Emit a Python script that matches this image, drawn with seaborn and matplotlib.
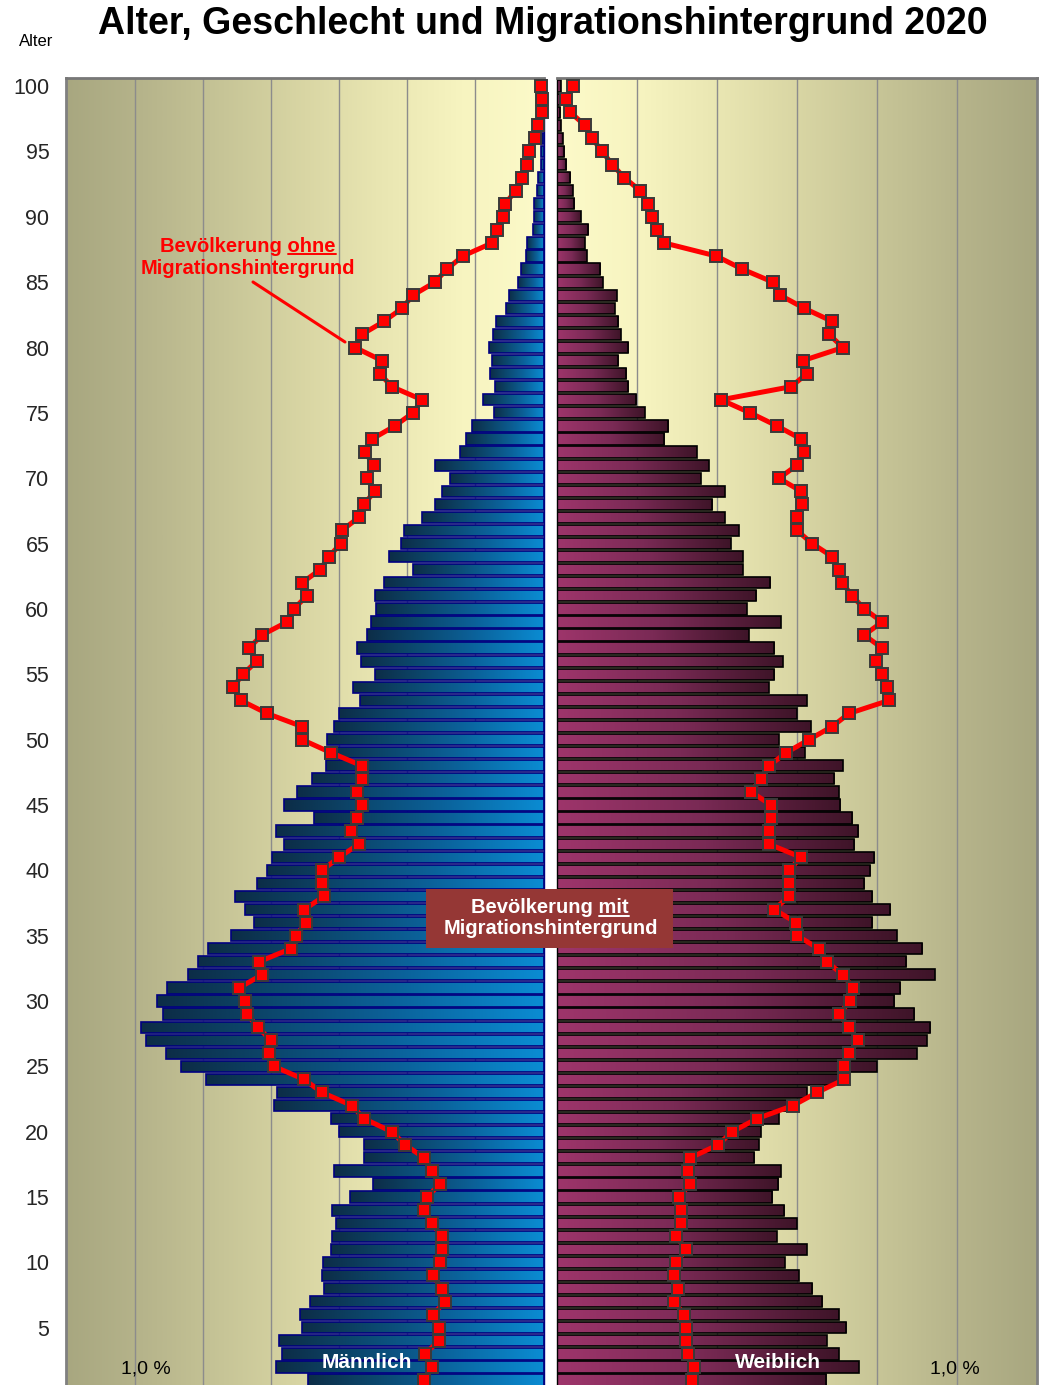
import numpy as np
import pandas as pd
import matplotlib
matplotlib.use("Agg")
import matplotlib.pyplot as plt
import seaborn as sns
from matplotlib.colors import LinearSegmentedColormap
from matplotlib.lines import Line2D
from matplotlib.patches import Rectangle

# ---------------- data (ages 1 .. 100) ----------------
ages = list(range(1, 101))

# population WITH migration background (bars), left panel units
male_mit = [0.693, 0.787, 0.769, 0.778, 0.710, 0.716, 0.687, 0.646, 0.652, 0.649,
            0.625, 0.622, 0.610, 0.622, 0.569, 0.502, 0.616, 0.528, 0.528, 0.601,
            0.625, 0.793, 0.784, 0.993, 1.066, 1.110, 1.169, 1.184, 1.119, 1.137,
            1.107, 1.046, 1.016, 0.987, 0.920, 0.852, 0.878, 0.908, 0.843, 0.813,
            0.799, 0.763, 0.787, 0.675, 0.763, 0.725, 0.681, 0.640, 0.643, 0.637,
            0.616, 0.601, 0.540, 0.560, 0.496, 0.537, 0.549, 0.519, 0.507, 0.493,
            0.496, 0.469, 0.384, 0.454, 0.419, 0.410, 0.357, 0.319, 0.299, 0.275,
            0.319, 0.246, 0.228, 0.210, 0.146, 0.178, 0.143, 0.157, 0.151, 0.160,
            0.149, 0.140, 0.110, 0.101, 0.075, 0.066, 0.051, 0.048, 0.031, 0.028,
            0.028, 0.019, 0.016, 0.007, 0.007, 0.004, 0.003, 0.000, 0.000, 0.000]

female_mit = [0.673, 0.755, 0.705, 0.675, 0.723, 0.705, 0.663, 0.638, 0.605, 0.570,
              0.625, 0.550, 0.600, 0.568, 0.538, 0.553, 0.560, 0.493, 0.505, 0.510,
              0.555, 0.583, 0.625, 0.718, 0.800, 0.900, 0.925, 0.933, 0.893, 0.843,
              0.858, 0.945, 0.873, 0.913, 0.850, 0.788, 0.833, 0.788, 0.768, 0.783,
              0.793, 0.743, 0.753, 0.738, 0.708, 0.705, 0.693, 0.715, 0.620, 0.555,
              0.635, 0.600, 0.625, 0.530, 0.543, 0.565, 0.543, 0.480, 0.560, 0.475,
              0.498, 0.533, 0.465, 0.465, 0.435, 0.455, 0.420, 0.388, 0.420, 0.360,
              0.380, 0.350, 0.268, 0.278, 0.220, 0.198, 0.178, 0.173, 0.153, 0.178,
              0.160, 0.153, 0.145, 0.150, 0.115, 0.108, 0.075, 0.070, 0.078, 0.060,
              0.043, 0.040, 0.033, 0.023, 0.018, 0.015, 0.010, 0.008, 0.008, 0.010]

# population WITHOUT migration background (red lines)
male_ohne = [0.351, 0.328, 0.349, 0.307, 0.307, 0.325, 0.290, 0.299, 0.325, 0.304,
             0.299, 0.299, 0.328, 0.351, 0.343, 0.304, 0.328, 0.351, 0.407, 0.446,
             0.528, 0.563, 0.651, 0.704, 0.793, 0.808, 0.802, 0.840, 0.872, 0.878,
             0.896, 0.828, 0.837, 0.743, 0.728, 0.699, 0.704, 0.646, 0.651, 0.651,
             0.601, 0.543, 0.566, 0.549, 0.534, 0.549, 0.534, 0.534, 0.625, 0.710,
             0.710, 0.813, 0.890, 0.913, 0.884, 0.843, 0.866, 0.828, 0.754, 0.734,
             0.696, 0.710, 0.657, 0.631, 0.596, 0.593, 0.543, 0.528, 0.496, 0.519,
             0.499, 0.525, 0.504, 0.437, 0.384, 0.357, 0.446, 0.481, 0.475, 0.554,
             0.534, 0.469, 0.416, 0.384, 0.319, 0.284, 0.237, 0.151, 0.137, 0.119,
             0.113, 0.081, 0.063, 0.049, 0.043, 0.025, 0.016, 0.004, 0.004, 0.007]

female_ohne = [0.338, 0.343, 0.328, 0.323, 0.323, 0.318, 0.293, 0.303, 0.293, 0.298,
               0.323, 0.298, 0.310, 0.310, 0.305, 0.333, 0.328, 0.333, 0.403, 0.438,
               0.500, 0.590, 0.650, 0.718, 0.718, 0.730, 0.753, 0.730, 0.705, 0.733,
               0.740, 0.715, 0.675, 0.655, 0.600, 0.598, 0.543, 0.580, 0.580, 0.580,
               0.610, 0.530, 0.530, 0.535, 0.535, 0.485, 0.510, 0.530, 0.573, 0.630,
               0.688, 0.730, 0.830, 0.825, 0.813, 0.798, 0.813, 0.768, 0.813, 0.768,
               0.738, 0.713, 0.705, 0.688, 0.638, 0.600, 0.600, 0.613, 0.610, 0.555,
               0.600, 0.618, 0.610, 0.550, 0.483, 0.410, 0.585, 0.625, 0.615, 0.715,
               0.680, 0.688, 0.618, 0.558, 0.540, 0.463, 0.398, 0.268, 0.250, 0.238,
               0.228, 0.208, 0.168, 0.138, 0.113, 0.088, 0.070, 0.033, 0.023, 0.040]

age_ticks = list(range(5, 101, 5))
left_grid = [0.2, 0.4, 0.6, 0.8, 1.0, 1.2]
right_grid = [0.2, 0.4, 0.6, 0.8, 1.0]

title = "Alter, Geschlecht und Migrationshintergrund 2020"

# ---------------- style ----------------
sns.set_theme(style="white")
plt.rcParams['font.family'] = ['Liberation Sans', 'DejaVu Sans']

W, H = 1040, 1385
fig = plt.figure(figsize=(W / 100, H / 100), dpi=100)
fig.patch.set_facecolor('white')


def fx(px):
    return px / W


def fy(py):
    return 1 - py / H


TOP = 78
axL = fig.add_axes([fx(66), 0, fx(543.5) - fx(66), 1 - TOP / H])
axR = fig.add_axes([fx(557), 0, fx(1037) - fx(557), 1 - TOP / H])

df = pd.DataFrame({'age': ages, 'male_mit': male_mit, 'female_mit': female_mit,
                   'male_ohne': male_ohne, 'female_ohne': female_ohne})

YLIM = (0.62, 100.62)
LXMAX, RXMAX = 1.404, 1.2

bg_cmap = LinearSegmentedColormap.from_list(
    'bg', [(0, '#FCFAC9'), (0.17, '#F7F4C0'), (0.35, '#E8E5B1'), (0.5, '#D9D6A4'),
           (0.67, '#C7C597'), (0.84, '#B6B48B'), (1, '#A8A780')])
male_cmap = LinearSegmentedColormap.from_list(
    'm', [(0, '#0A8CD3'), (0.4, '#0B6199'), (0.75, '#0C4468'), (1, '#0C2D47')])
female_cmap = LinearSegmentedColormap.from_list(
    'f', [(0, '#9E356B'), (0.5, '#7A2A55'), (1, '#3E1428')])

for ax, xmax in ((axL, LXMAX), (axR, RXMAX)):
    g = np.linspace(0, 1, 512).reshape(1, -1)
    ax.imshow(g, cmap=bg_cmap, extent=(0, xmax, YLIM[0], YLIM[1]), aspect='auto',
              origin='lower', zorder=-10, interpolation='bilinear')

sns.barplot(data=df, x='male_mit', y='age', orient='h', native_scale=True, ax=axL,
            color='#0A6DA5', edgecolor='#000080', linewidth=1.2, width=0.86, errorbar=None)
sns.barplot(data=df, x='female_mit', y='age', orient='h', native_scale=True, ax=axR,
            color='#7A2A55', edgecolor='black', linewidth=1.2, width=0.86, errorbar=None)


def grad_fill(ax, cmap):
    g = np.linspace(0, 1, 256).reshape(1, -1)
    for p in list(ax.patches):
        w = p.get_width()
        if w <= 0:
            continue
        x0, y0, h = p.get_x(), p.get_y(), p.get_height()
        im = ax.imshow(g, cmap=cmap, extent=(x0, x0 + w, y0, y0 + h), aspect='auto',
                       origin='lower', interpolation='bilinear', zorder=1.5)
        im.set_clip_path(p)
        p.set_facecolor('none')
        p.set_zorder(2)


grad_fill(axL, male_cmap)
grad_fill(axR, female_cmap)

line_kw = dict(orient='y', color='#FF0000', linewidth=3.6, marker='s', markersize=8.2,
               markerfacecolor='#FF0000', markeredgecolor='#3A3A3A', markeredgewidth=1.4,
               errorbar=None, clip_on=False, zorder=5)
sns.lineplot(data=df, x='male_ohne', y='age', ax=axL, **line_kw)
sns.lineplot(data=df, x='female_ohne', y='age', ax=axR, **line_kw)

axL.set_xlim(LXMAX, 0)
axR.set_xlim(0, RXMAX)
for ax, grid in ((axL, left_grid), (axR, right_grid)):
    ax.set_ylim(*YLIM)
    ax.set_xticks(grid)
    ax.grid(axis='x', color='#8C8C8C', linewidth=1.0)
    ax.grid(axis='y', visible=False)
    ax.set_axisbelow(True)
    ax.set_xlabel('')
    ax.set_ylabel('')
    ax.tick_params(length=0, labelbottom=False)
    ax.set_yticks(age_ticks)
    ax.spines['bottom'].set_visible(False)
    ax.spines['top'].set_color('#777777')
    ax.spines['top'].set_linewidth(2.0)

axL.set_yticklabels([str(a) for a in age_ticks], fontsize=15.5)
axL.tick_params(axis='y', pad=12)
axR.tick_params(axis='y', labelleft=False)
axL.spines['left'].set_color('#808080')
axL.spines['left'].set_linewidth(2.0)
axL.spines['right'].set_color('#000080')
axL.spines['right'].set_linewidth(1.0)
axR.spines['right'].set_color('#808080')
axR.spines['right'].set_linewidth(2.0)
axR.spines['left'].set_color('black')
axR.spines['left'].set_linewidth(1.0)

# ---------------- texts ----------------
fig.text(fx(543), fy(24), title, ha='center', va='center', fontsize=27,
         fontweight='bold', color='black')
fig.text(fx(36), fy(41), 'Alter', ha='center', va='center', fontsize=12, color='black')

red_kw = dict(ha='center', va='baseline', fontsize=14.5, fontweight='bold', color='#FF0000')
t_ohne = fig.text(fx(248), fy(251.5), 'Bevölkerung ohne', **red_kw)
fig.text(fx(248), fy(273.5), 'Migrationshintergrund', **red_kw)
fig.add_artist(Line2D([fx(253), fx(345)], [fy(282), fy(342)], color='#FF0000',
                      linewidth=2.2, transform=fig.transFigure))

fig.add_artist(Rectangle((fx(426), fy(948)), fx(673) - fx(426), fy(889) - fy(948),
                         transform=fig.transFigure, facecolor='#953735',
                         edgecolor='none', zorder=3))
wh_kw = dict(ha='center', va='baseline', fontsize=14.5, fontweight='bold',
             color='white', zorder=4)
t_mit = fig.text(fx(550), fy(913), 'Bevölkerung mit', **wh_kw)
fig.text(fx(550.5), fy(934), 'Migrationshintergrund', **wh_kw)

fig.text(fx(367), fy(1362), 'Männlich', ha='center', va='center', fontsize=15,
         fontweight='bold', color='white', zorder=4)
fig.text(fx(778), fy(1362), 'Weiblich', ha='center', va='center', fontsize=15,
         fontweight='bold', color='white', zorder=4)
fig.text(fx(146), fy(1369), '1,0 %', ha='center', va='center', fontsize=14, color='black')
fig.text(fx(955), fy(1369), '1,0 %', ha='center', va='center', fontsize=14, color='black')

# underline single words
fig.canvas.draw()
rend = fig.canvas.get_renderer()


def underline(tobj, word, color):
    bb = tobj.get_window_extent(rend)
    tmp = fig.text(0, 0, word, fontsize=tobj.get_fontsize(), fontweight=tobj.get_fontweight())
    wb = tmp.get_window_extent(rend)
    tmp.remove()
    x1 = bb.x1
    x0 = x1 - wb.width
    ybase = tobj.get_position()[1] * H - 2.5
    fig.add_artist(Line2D([x0 / W, x1 / W], [ybase / H, ybase / H], color=color,
                          linewidth=1.4, transform=fig.transFigure, zorder=5))


underline(t_ohne, 'ohne', '#FF0000')
underline(t_mit, 'mit', 'white')

fig.savefig('out.png', dpi=100, facecolor='white')
